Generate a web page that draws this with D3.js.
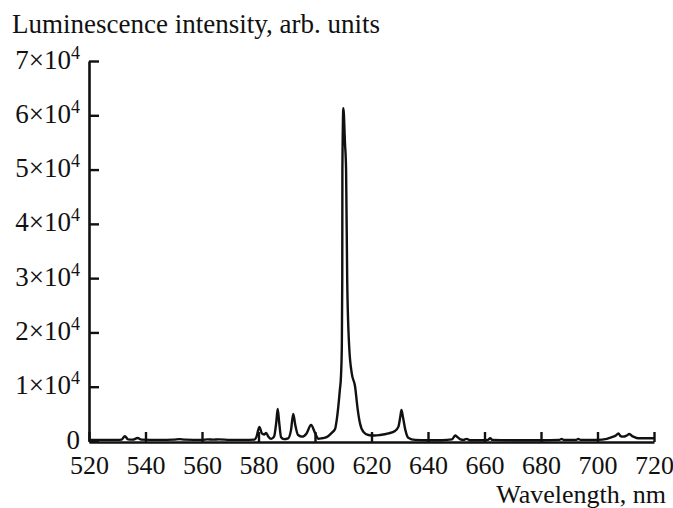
<!DOCTYPE html>
<html>
<head>
<meta charset="utf-8">
<script src="https://cdn.jsdelivr.net/npm/d3@7"></script>
<style>
  body { margin: 0; background: #fff; }
  text { font-family: "Liberation Serif", "Times New Roman", serif; fill: #111; }
</style>
</head>
<body>
<script>
const width = 673;
const height = 508;
const margin = { top: 61, right: 19, bottom: 66, left: 89 };

// spectrum (nm, arb. units)
const wavelengths = [
  520, 530, 531.5, 532.7, 533.8, 535.5, 537.2, 538.5, 545, 550, 552, 554, 560, 562, 564, 566, 570, 575,
  578.5, 579.3, 580.3, 581.2, 582, 582.7, 583.5, 584.5, 585.5, 586.3, 586.8, 587.3, 588, 589,
  590.5, 591.5, 592.3, 593, 594, 595.5, 597, 598.6, 600, 601.2, 602.5, 604.1, 605.9, 607.1, 607.7,
  608.8, 609.2, 609.5, 609.65, 609.7, 610.05, 610.6, 611.0, 611.4, 612.1, 613.0, 614.2, 615.0,
  615.9, 617.1, 618.9, 621, 623, 626, 628.3, 629.5, 630.2, 630.6, 631.1, 632, 633, 635.4,
  640, 645, 648.5, 649.6, 650.5, 651.5, 652.5, 653.7, 654.8, 660, 661.2, 662, 662.8, 670, 680,
  686.5, 687.3, 688, 692.5, 693.2, 694, 700, 703.3, 705.6, 706.5, 707.4, 708.2, 708.9, 710.3,
  711.3, 712.3, 712.7, 714.5, 717, 720
];
const intensities = [
  200, 200, 250, 900, 300, 250, 550, 250, 200, 250, 350, 250, 200, 300, 250, 300, 200, 200,
  250, 800, 2600, 1400, 1200, 1500, 800, 400, 800, 3500, 5900, 3500, 700, 350,
  500, 2000, 5000, 3000, 1100, 800, 1400, 2950, 1500, 400, 500, 700, 1500, 2200, 3900,
  9400, 12000, 17400, 30000, 50000, 61300, 55000, 50000, 29600, 17400, 12500, 10000, 6300,
  3300, 1700, 1100, 1000, 1100, 1400, 1850, 2600, 4500, 5700, 4500, 2000, 600, 200,
  150, 150, 300, 1000, 700, 300, 200, 400, 150, 150, 200, 500, 200, 150, 150,
  200, 400, 200, 200, 400, 200, 200, 400, 800, 1000, 1400, 900, 800, 1000,
  1300, 900, 800, 500, 500, 500
];

const xTicks = [520, 540, 560, 580, 600, 620, 640, 660, 680, 700, 720];
const yTicks = [0, 1, 2, 3, 4, 5, 6, 7];   // multiples of 10^4
const yTitle = "Luminescence intensity, arb. units";
const xTitle = "Wavelength, nm";

const spectrum = wavelengths.map((w, i) => ({ x: w, y: intensities[i] }));

const x = d3.scaleLinear().domain([520, 720]).range([margin.left, 654]);
const y = d3.scaleLinear().domain([0, 70000]).range([height - margin.bottom - 1, margin.top]);

const svg = d3.select("body")
  .append("svg")
  .attr("width", width)
  .attr("height", height);

const line = d3.line()
  .x(d => x(d.x))
  .y(d => y(d.y))
  .curve(d3.curveMonotoneX);

svg.append("path")
  .datum(spectrum)
  .attr("fill", "none")
  .attr("stroke", "#111")
  .attr("stroke-width", 2.4)
  .attr("stroke-linejoin", "round")
  .attr("d", line);

const xAxis = svg.append("g")
  .attr("transform", `translate(0, ${y(0) + 1})`)
  .call(d3.axisBottom(x).tickValues(xTicks).tickSize(-10).tickSizeOuter(0).tickPadding(14));

const yAxis = svg.append("g")
  .attr("transform", `translate(${margin.left}, 0)`)
  .call(d3.axisLeft(y).tickValues(yTicks.map(t => t * 1e4)).tickSize(-10).tickSizeOuter(0)
    .tickPadding(9).tickFormat(""));

[xAxis, yAxis].forEach(g => {
  g.select(".domain").attr("stroke", "#111").attr("stroke-width", 2.6);
  g.selectAll(".tick line").attr("stroke", "#111").attr("stroke-width", 2.4);
  g.selectAll(".tick text").attr("font-family", null).attr("font-size", 26).attr("fill", "#111");
});

yAxis.selectAll(".tick text")
  .attr("font-size", 27)
  .attr("dy", "0.26em")
  .each(function(d) {
    const t = d3.select(this);
    const k = d / 1e4;
    if (k === 0) { t.text("0"); return; }
    t.append("tspan").text(`${k}\u00d710`);
    t.append("tspan").attr("dy", -10).attr("font-size", 18).text("4");
  });

svg.append("text")
  .attr("x", 12)
  .attr("y", 33)
  .attr("font-size", 27)
  .text(yTitle);

svg.append("text")
  .attr("x", 666)
  .attr("y", 503)
  .attr("text-anchor", "end")
  .attr("font-size", 26)
  .text(xTitle);
</script>
</body>
</html>
